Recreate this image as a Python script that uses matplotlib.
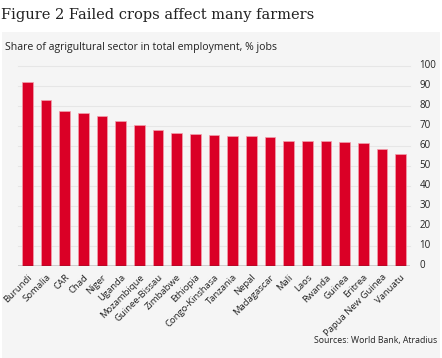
import matplotlib
matplotlib.use("Agg")
import matplotlib.pyplot as plt
from matplotlib.patches import Rectangle
from matplotlib.transforms import blended_transform_factory

countries = ["Burundi", "Somalia", "CAR", "Chad", "Niger", "Uganda", "Mozambique",
             "Guinee-Bissau", "Zimbabwe", "Ethiopia", "Congo-Kinshasa", "Tanzania",
             "Nepal", "Madagascar", "Mali", "Laos", "Rwanda", "Guinea", "Eritrea",
             "Papua New Guinea", "Vanuatu"]
values = [91.7, 82.8, 77.2, 76.3, 75.0, 72.5, 70.2, 68.0, 66.5, 66.0, 65.2, 65.0,
          64.8, 64.2, 62.5, 62.3, 62.3, 61.7, 61.2, 58.2, 55.7]
yticks = [0, 10, 20, 30, 40, 50, 60, 70, 80, 90, 100]

W, H = 442, 358
fig = plt.figure(figsize=(W / 100, H / 100), dpi=100)
fig.patch.set_facecolor("white")

# grey panel
fig.patches.append(Rectangle((2 / W, 0), 438 / W, 1 - 32 / H, transform=fig.transFigure,
                             facecolor="#f5f5f5", edgecolor="none", zorder=-10))

fig.text(1 / W, 1 - 15.5 / H, "Figure 2 Failed crops affect many farmers",
         family="DejaVu Serif", fontsize=10.5, color="#222222", va="center", ha="left")
fig.text(5 / W, 1 - 47.5 / H, "Share of agrigultural sector in total employment, % jobs",
         family="Open Sans", fontsize=7.55, color="#222222", va="center", ha="left")
fig.text(437 / W, 1 - 340 / H, "Sources: World Bank, Atradius",
         family="Open Sans", fontsize=6.3, color="#222222", va="center", ha="right")

left, right = 18 / W, 410 / W
bottom, top = 1 - 265.7 / H, 1 - 65.7 / H
ax = fig.add_axes([left, bottom, right - left, top - bottom])
ax.set_facecolor("none")
ax.set_zorder(2)

x = list(range(len(countries)))
ax.bar(x, values, width=0.57, color="#da0026", edgecolor="#f2a0ae", linewidth=0.5, zorder=3)
ax.set_xlim(-0.5, len(countries) - 0.5)
ax.set_ylim(0, 100)

for y in yticks[1:]:
    ax.axhline(y, color="#e6e6e6", linewidth=0.8, zorder=1, clip_on=False)
ax.axhline(0, color="#333333", linewidth=1.0, zorder=4)

for s in ax.spines.values():
    s.set_visible(False)

ax.set_yticks([])
tr = blended_transform_factory(fig.transFigure, ax.transData)
for y in yticks:
    ax.text(419.5 / W, y, str(y), transform=tr, ha="left", va="center",
            family="Open Sans", fontsize=7.0, color="#222222", clip_on=False)

ax.set_xticks(x)
ax.set_xticklabels(countries, rotation=45, ha="right", rotation_mode="anchor",
                   family="Open Sans", fontsize=6.8, color="#222222")
ax.tick_params(axis="x", length=0, pad=5)

fig.savefig("out.png", dpi=100, facecolor=fig.get_facecolor())
